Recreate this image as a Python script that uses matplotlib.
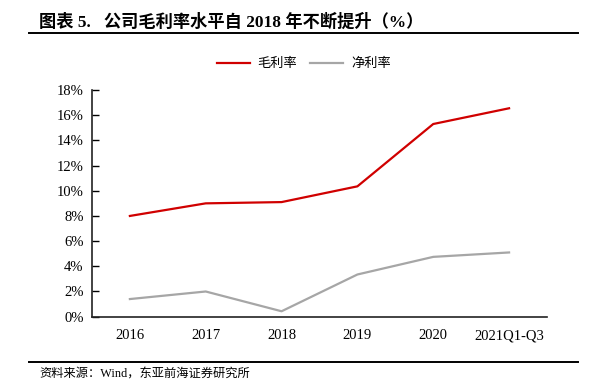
import matplotlib
matplotlib.use("Agg")
import matplotlib.pyplot as plt
from matplotlib.lines import Line2D

plt.rcParams['font.family'] = ['Liberation Serif', 'Noto Sans CJK SC']

years = ["2016", "2017", "2018", "2019", "2020", "2021Q1-Q3"]
gross_margin = [8.0, 9.0, 9.1, 10.35, 15.3, 16.55]
net_margin = [1.4, 2.0, 0.43, 3.35, 4.75, 5.1]
yticks = [0, 2, 4, 6, 8, 10, 12, 14, 16, 18]

red = '#D00000'
grey = '#A6A6A6'

fig = plt.figure(figsize=(5.98, 3.87), dpi=100)
ax = fig.add_axes([0.1538, 0.1817, 0.7609, 0.5857])

x = list(range(len(years)))
ax.plot(x, gross_margin, color=red, lw=1.6, label='毛利率')
ax.plot(x, net_margin, color=grey, lw=1.6, label='净利率')

ax.set_xlim(-0.5, len(years) - 0.5)
ax.set_ylim(0, 18)
ax.set_yticks(yticks)
ax.set_yticklabels([f"{v}%" for v in yticks], fontsize=10.5)
ax.set_xticks(x)
ax.set_xticklabels(years, fontsize=10.5)
ax.tick_params(axis='y', direction='in', length=5, width=1, pad=6)
ax.tick_params(axis='x', length=0, pad=9)
for s in ['top', 'right']:
    ax.spines[s].set_visible(False)
for s in ['left', 'bottom']:
    ax.spines[s].set_linewidth(1.2)
    ax.spines[s].set_color('#222222')

handles = [Line2D([], [], color=red, lw=1.6), Line2D([], [], color=grey, lw=1.6)]
fig.legend(handles, ['毛利率', '净利率'], loc='center', bbox_to_anchor=(0.508, 0.835),
           ncol=2, frameon=False, handlelength=2.5, handletextpad=0.6,
           columnspacing=1.0, prop={'family': ['Noto Sans CJK SC'], 'size': 9.5})

fig.text(0.066, 0.943, "图表 5.   公司毛利率水平自 2018 年不断提升（%）",
         fontsize=12.4, fontweight='bold', va='center', ha='left',
         family=['Liberation Serif', 'Noto Sans CJK SC'])
fig.add_artist(Line2D([0.0485, 0.9666], [0.915, 0.915], color='black', lw=1.4))
fig.add_artist(Line2D([0.0485, 0.9666], [0.0646, 0.0646], color='black', lw=1.4))
fig.text(0.066, 0.033, "资料来源：Wind，东亚前海证券研究所", fontsize=8.8, va='center',
         ha='left', family=['Liberation Serif', 'Noto Sans CJK SC'])

fig.savefig("out.png", dpi=100)
